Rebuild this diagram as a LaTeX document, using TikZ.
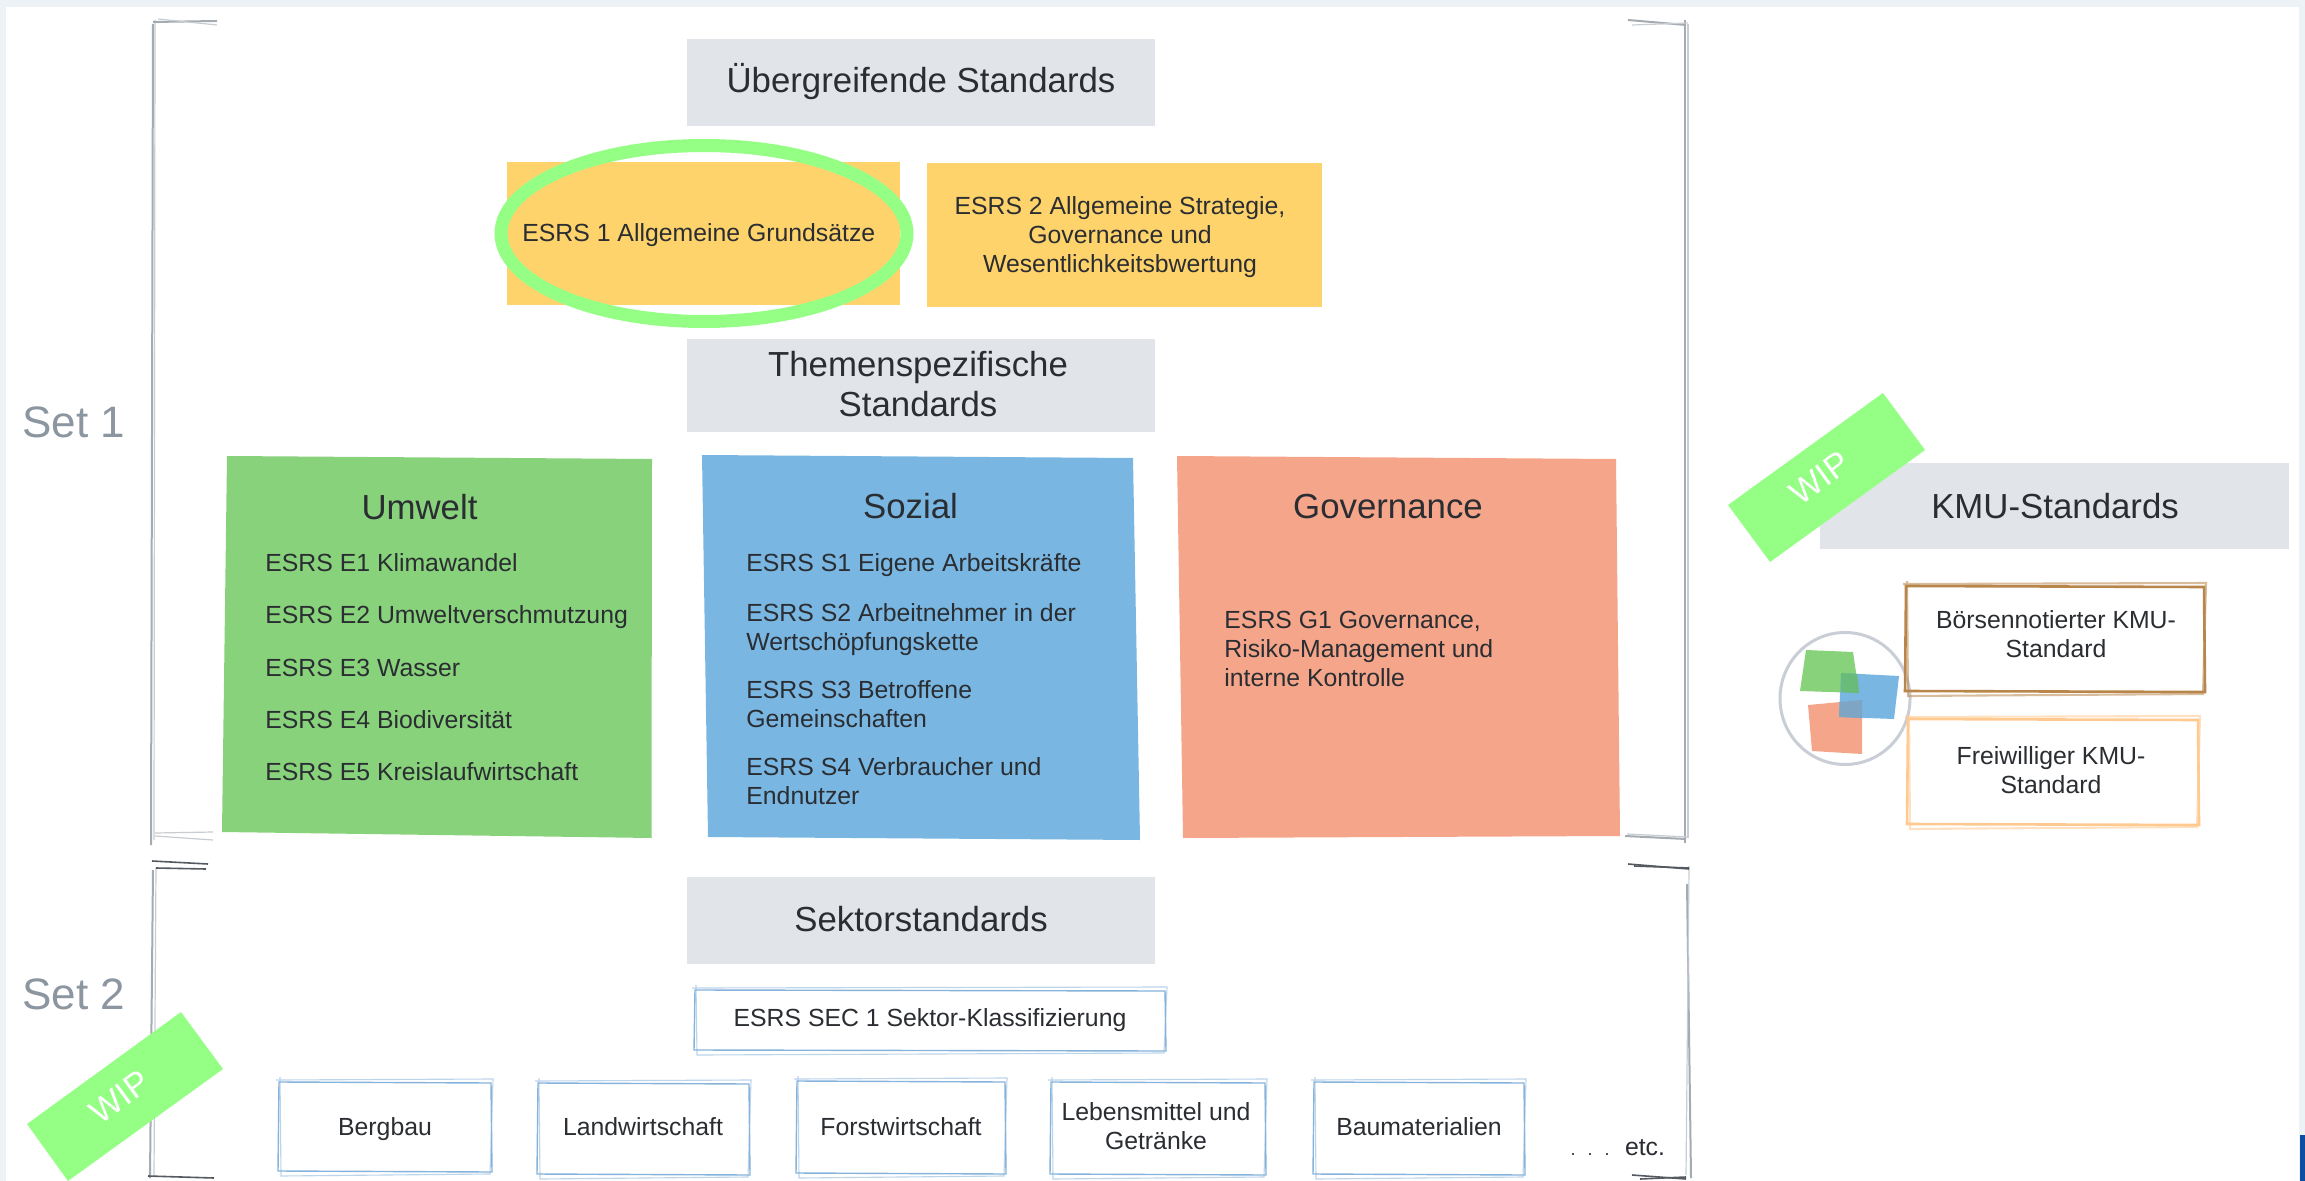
\documentclass[tikz,border=0pt]{standalone}
\usepackage{fontspec}
\setmainfont{Liberation Sans}
\definecolor{pagebg}{HTML}{EDF2F7}
\definecolor{greybox}{HTML}{E1E4E9}
\definecolor{yellowbox}{HTML}{FFD36B}
\definecolor{hilite}{HTML}{95FF85}
\definecolor{umweltc}{HTML}{88D27C}
\definecolor{sozialc}{HTML}{79B7E2}
\definecolor{govc}{HTML}{F5A68A}
\definecolor{brownl}{HTML}{B8864A}
\definecolor{orangel}{HTML}{FFC98F}
\definecolor{sectl}{HTML}{86B3DB}
\definecolor{setc}{HTML}{8C96A0}
\definecolor{brk}{HTML}{A4ABB3}
\definecolor{brkd}{HTML}{555A60}
\definecolor{inkc}{HTML}{2A2D31}
\definecolor{cornerc}{HTML}{0C4DA2}
\definecolor{ringc}{HTML}{C9CED6}
\definecolor{mixgb}{HTML}{68BB78}
\definecolor{mixrb}{HTML}{7FA5C4}
\tikzset{
  head/.style={font=\fontsize{17.4}{20}\selectfont,text=inkc,inner sep=0pt,anchor=base,align=center},
  body/.style={font=\fontsize{12.4}{14.5}\selectfont,text=inkc,inner sep=0pt,anchor=base,align=center},
  bodyl/.style={font=\fontsize{12.4}{14.5}\selectfont,text=inkc,inner sep=0pt,anchor=base west,align=left},
  settxt/.style={font=\fontsize{22}{26}\selectfont,text=setc,inner sep=0pt,anchor=base west},
  wiptxt/.style={font=\fontsize{17}{20}\selectfont,text=white,inner sep=0pt,rotate=36},
  brkline/.style={draw=brk,line width=1pt},
  brklight/.style={draw=brk!60,line width=.6pt},
  tickd/.style={draw=brkd,line width=.8pt},
}
% hand-drawn frame: x1 y1 x2 y2 colour width
\newcommand{\sketchbox}[6]{%
  \draw[#5,line width=#6] (#1,#2) -- (#3,#2+1) -- (#3+1,#4) -- (#1-1,#4-1) -- cycle;
  \draw[#5,opacity=.55,line width=#6*.8] (#1-3,#2-2) -- (#3+2,#2-3) -- (#3-1,#4+2) -- (#1+2,#4+4) -- (#1+1,#2-5);
}
\begin{document}
\begin{tikzpicture}[x=0.5pt,y=-0.5pt]
\useasboundingbox (0,0) rectangle (2305,1181);
\fill[pagebg] (0,0) rectangle (2305,1181);
\fill[white] (6,7) rectangle (2299,1181);
\fill[cornerc] (2300,1135) rectangle (2305,1181);

% grey header boxes
\fill[greybox] (687,39) rectangle (1155,126);
\fill[greybox] (687,339) rectangle (1155,432);
\fill[greybox] (687,877) rectangle (1155,964);
\fill[greybox] (1820,463) rectangle (2289,549);

% yellow boxes
\fill[yellowbox] (507,162) rectangle (900,305);
\fill[yellowbox] (927,163) rectangle (1322,307);

% topic sheets
\fill[umweltc] (227,456) -- (652,459) -- (651.5,838) -- (222,832) -- cycle;
\fill[sozialc] (702,455) -- (1133,458) -- (1140,840) -- (708,837) -- cycle;
\fill[govc] (1177,456) -- (1616,459) -- (1620,836) -- (1183,838) -- cycle;

% brackets set 1
\draw[brkline] (153,24) -- (151,845);
\draw[brklight] (155,20) -- (154,840);
\draw[brkline] (153,22) -- (217,21);
\draw[brklight] (158,19) -- (217,25);
\draw[brklight] (155,833) -- (213,832);
\draw[brklight] (155,836) -- (213,840);
\draw[brkline] (1685,20) -- (1685,843);
\draw[brklight] (1688,24) -- (1688,838);
\draw[brkline] (1628,20) -- (1686,25);
\draw[brklight] (1632,25) -- (1688,23);
\draw[brkline] (1625,836) -- (1686,839);
\draw[brklight] (1627,834) -- (1688,837);

% brackets set 2
\draw[brkline] (153,870) -- (150,1178);
\draw[brklight] (156,868) -- (154,1176);
\draw[tickd] (152,861) -- (208,864);
\draw[tickd] (156,868) -- (206,869);
\draw[tickd] (148,1176) -- (214,1178);
\draw[brkline] (1687,884) -- (1691,1178);
\draw[brklight] (1689,866) -- (1686,1175);
\draw[tickd] (1628,864) -- (1689,869);
\draw[tickd] (1634,866) -- (1689,868);
\draw[tickd] (1632,1175) -- (1686,1179);
\draw[tickd] (1640,1179) -- (1686,1177);

% highlight ring
\draw[hilite,line width=6.5pt] (704,233.5) ellipse [x radius=203,y radius=88];

% WIP banners
\fill[hilite] (1883,393) -- (1925,450) -- (1770,562) -- (1728,505) -- cycle;
\fill[hilite] (181,1012) -- (223,1069) -- (68,1181) -- (27,1124) -- cycle;
\node[wiptxt] (wipa) at (1820,478) {WIP};
\node[wiptxt] (wipb) at (120,1097) {WIP};

% logo
\draw[ringc,line width=1.5pt] (1845,698.5) ellipse [x radius=65,y radius=66];
\fill[umweltc] (1806,650) -- (1853,652) -- (1859,693) -- (1800,691) -- cycle;
\fill[govc] (1808,705) -- (1862,700) -- (1862,754) -- (1812,751) -- cycle;
\fill[sozialc] (1841,673) -- (1899,676) -- (1894,719) -- (1839,717) -- cycle;
\fill[mixgb] (1841,673) -- (1857.2,673.8) -- (1859,693) -- (1840.5,692.4) -- cycle;
\fill[mixrb] (1839.6,702) -- (1862,700) -- (1862,718.1) -- (1839,717) -- cycle;

% sketched frames
\sketchbox{1906}{586}{2204}{692}{brownl}{1.3pt}
\sketchbox{1908}{719}{2198}{825}{orangel}{1.3pt}
\sketchbox{695}{990}{1165}{1051}{sectl}{.7pt}
\sketchbox{279}{1082}{491}{1172}{sectl}{.7pt}
\sketchbox{538}{1083}{749}{1175}{sectl}{.7pt}
\sketchbox{797}{1081}{1005}{1174}{sectl}{.7pt}
\sketchbox{1051}{1082}{1265}{1175}{sectl}{.7pt}
\sketchbox{1314}{1082}{1524}{1175}{sectl}{.7pt}

% texts (multi-line nodes are placed by the baseline of their last line)
\node[settxt] (setone) at (22,438) {Set 1};
\node[settxt] (settwo) at (22,1009) {Set 2};
\node[head] (tueber) at (921,93) {Übergreifende Standards};
\node[head] (tthema) at (918,417) {Themenspezifische\\Standards};
\node[head] (tsektor) at (921,931) {Sektorstandards};
\node[head] (tkmu) at (2055,518) {KMU-Standards};
\node[head] (tumwelt) at (419.5,519) {Umwelt};
\node[head] (tsozial) at (910.5,518) {Sozial};
\node[head] (tgov) at (1388,518) {Governance};

\node[bodyl] (esa) at (522,242) {ESRS 1 Allgemeine Grundsätze};
\node[body] (esb) at (1120,273) {ESRS 2 Allgemeine Strategie,\\Governance und\\Wesentlichkeitsbwertung};

\node[bodyl] (ea) at (265,571) {ESRS E1 Klimawandel};
\node[bodyl] (eb) at (265,623) {ESRS E2 Umweltverschmutzung};
\node[bodyl] (ec) at (265,676) {ESRS E3 Wasser};
\node[bodyl] (ed) at (265,728) {ESRS E4 Biodiversität};
\node[bodyl] (ee) at (265,780) {ESRS E5 Kreislaufwirtschaft};

\node[bodyl] (sa) at (746,571) {ESRS S1 Eigene Arbeitskräfte};
\node[bodyl] (sb) at (746,650) {ESRS S2 Arbeitnehmer in der\\Wertschöpfungskette};
\node[bodyl] (sc) at (746,727) {ESRS S3 Betroffene\\Gemeinschaften};
\node[bodyl] (sd) at (746,804) {ESRS S4 Verbraucher und\\Endnutzer};

\node[bodyl] (ga) at (1224,686) {ESRS G1 Governance,\\Risiko-Management und\\interne Kontrolle};

\node[body] (ka) at (2056,657) {Börsennotierter KMU-\\Standard};
\node[body] (kb) at (2051,793) {Freiwilliger KMU-\\Standard};

\node[body] (sec) at (930,1026) {ESRS SEC 1 Sektor-Klassifizierung};
\node[body] (ba) at (385,1135) {Bergbau};
\node[body] (bb) at (643,1135) {Landwirtschaft};
\node[body] (bc) at (901,1135) {Forstwirtschaft};
\node[body] (bd) at (1156,1149) {Lebensmittel und\\Getränke};
\node[body] (be) at (1419,1135) {Baumaterialien};
\node[body] (etc) at (1645,1155) {etc.};
\node[body] (dots) at (1590,1155) {\fontsize{9}{10}\selectfont.\hspace{6pt}.\hspace{6pt}.};
\end{tikzpicture}
\end{document}
